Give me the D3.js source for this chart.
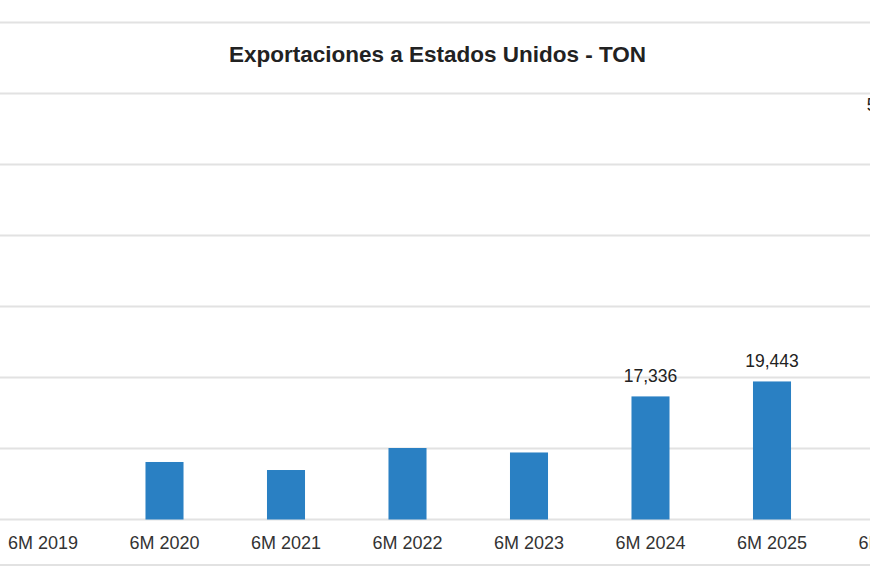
<!DOCTYPE html>
<html>
<head>
<meta charset="utf-8">
<script src="https://cdn.jsdelivr.net/npm/d3@7"></script>
<style>
  html, body { margin: 0; padding: 0; background: #fff; }
  #container { width: 870px; height: 580px; overflow: hidden; }
  text { font-family: "Liberation Sans", Arial, sans-serif; }
</style>
</head>
<body>
<div id="container"></div>
<script>
// chart data
const categories = ['6M 2019', '6M 2020', '6M 2021', '6M 2022', '6M 2023', '6M 2024', '6M 2025', '6M 2026']
const values = [0, 8100, 6970, 10070, 9440, 17336, 19443, 55600]
const showLabel = [false, false, false, false, false, true, true, true]
const yTicks = [0, 10000, 20000, 30000, 40000, 50000, 60000, 70000]

const w = 870
const h = 580

const svg = d3.select('#container')
    .append('svg')
    .attr('width', w)
    .attr('height', h)

// scales (the chart is cropped, so the band range runs past both edges)
const x = d3.scaleBand()
    .domain(categories)
    .range([-17.75, 954.25])
    .paddingInner(0.687)
    .paddingOuter(0.3435)

const y = d3.scaleLinear()
    .domain([0, 70000])
    .range([519.5, 22.5])

// gridlines
svg.append('g')
    .selectAll('line')
    .data(yTicks)
    .enter()
    .append('line')
    .attr('x1', 0)
    .attr('x2', w)
    .attr('y1', d => y(d))
    .attr('y2', d => y(d))
    .attr('stroke', '#e2e2e2')
    .attr('stroke-width', 2)

// bottom frame line
svg.append('line')
    .attr('x1', 0)
    .attr('x2', w)
    .attr('y1', 565)
    .attr('y2', 565)
    .attr('stroke', '#e2e2e2')
    .attr('stroke-width', 2)

// bars
svg.append('g')
    .selectAll('rect')
    .data(values)
    .enter()
    .append('rect')
    .attr('x', (d, i) => x(categories[i]))
    .attr('width', x.bandwidth())
    .attr('y', d => y(d))
    .attr('height', d => y(0) - y(d))
    .attr('fill', '#2a80c3')

// value labels
svg.append('g')
    .selectAll('text')
    .data(values.filter((d, i) => showLabel[i]).map(d => ({ v: d, c: categories[values.indexOf(d)] })))
    .enter()
    .append('text')
    .attr('x', d => x(d.c) + x.bandwidth() / 2)
    .attr('y', d => y(d.v) - 14)
    .attr('text-anchor', 'middle')
    .attr('font-size', '17.5px')
    .attr('fill', '#222')
    .text(d => d3.format(',')(d.v))

// category axis labels
const xAxis = d3.axisBottom(x).tickSize(0).tickPadding(0)
const gx = svg.append('g')
    .attr('transform', 'translate(0,' + y(0) + ')')
    .call(xAxis)
gx.select('.domain').remove()
gx.selectAll('text')
    .attr('dy', null)
    .attr('y', 29.5)
    .attr('font-size', '18px')
    .attr('fill', '#333')
    .attr('font-family', '"Liberation Sans", Arial, sans-serif')

// title
svg.append('text')
    .attr('x', 437.5)
    .attr('y', 62)
    .attr('text-anchor', 'middle')
    .attr('font-size', '22.5px')
    .attr('font-weight', 'bold')
    .attr('fill', '#222')
    .text('Exportaciones a Estados Unidos - TON')
</script>
</body>
</html>
